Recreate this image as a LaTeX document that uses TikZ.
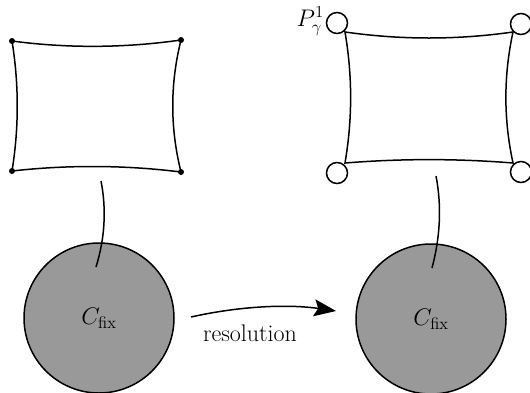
\RequirePackage{fix-cm}
\documentclass[tikz,border=0pt]{standalone}
\usetikzlibrary{arrows.meta}
\definecolor{fixgray}{RGB}{153,153,153}
\begin{document}
\begin{tikzpicture}[x=1pt,y=-1pt,
  edge/.style={line width=1.5pt},
  blob/.style={circle,draw,line width=1.5pt,fill=fixgray,minimum size=150pt,inner sep=0pt},
  dot/.style={circle,fill=black,minimum size=6pt,inner sep=0pt},
  ring/.style={circle,draw,line width=1.5pt,fill=white,minimum size=21pt,inner sep=0pt},
  lab/.style={font=\fontsize{24}{28}\selectfont}]
\useasboundingbox (0,0) rectangle (530,392);
% left
\coordinate (a1) at (12,41);
\coordinate (a2) at (181,40);
\coordinate (a3) at (12,171);
\coordinate (a4) at (181,172);
\draw[edge] (a1) .. controls (68,48.5) and (125,48) .. (a2)
  .. controls (170,84) and (170,128) .. (a4)
  .. controls (125,165) and (68,164.7) .. (a3)
  .. controls (19,128) and (19,84) .. (a1) -- cycle;
\foreach \c in {a1,a2,a3,a4} \node[dot] at (\c) {};
\node[blob] (C1) at (99,318) {};
\node[lab] at (C1.center) {$C_{\mathrm{fix}}$};
\coordinate (s1) at (101,181);
\coordinate (e1) at (96,267);
\draw[edge] (s1) .. controls (106.5,209) and (105,238) .. (e1);
% right
\coordinate (b1) at (345,32);
\coordinate (b2) at (513,32);
\coordinate (b3) at (345,163);
\coordinate (b4) at (513,163);
\draw[edge] (b1) .. controls (401,40) and (457,40) .. (b2)
  .. controls (503.5,76) and (503.5,119) .. (b4)
  .. controls (457,158.5) and (401,158.5) .. (b3)
  .. controls (352.5,119) and (352.5,76) .. (b1) -- cycle;
\node[ring] (r1) at (337,23) {};
\node[ring] (r2) at (521,24) {};
\node[ring] (r3) at (337,173) {};
\node[ring] (r4) at (521,172) {};
\node[lab,anchor=east,inner sep=1pt] (P) at (325,21) {$P^1_\gamma$};
\node[blob] (C2) at (431,319) {};
\node[lab] at (C2.center) {$C_{\mathrm{fix}}$};
\coordinate (s2) at (436,176);
\coordinate (e2) at (432,268);
\draw[edge] (s2) .. controls (442,207) and (440,238) .. (e2);
% arrow
\coordinate (t0) at (191,317);
\coordinate (t1) at (336,311);
\draw[edge,-{Stealth[length=22pt,width=17pt,inset=4pt]}] (t0) .. controls (240,306) and (288,304) .. (t1);
\node[lab] (res) at (250,333) {resolution};
\end{tikzpicture}
\end{document}
